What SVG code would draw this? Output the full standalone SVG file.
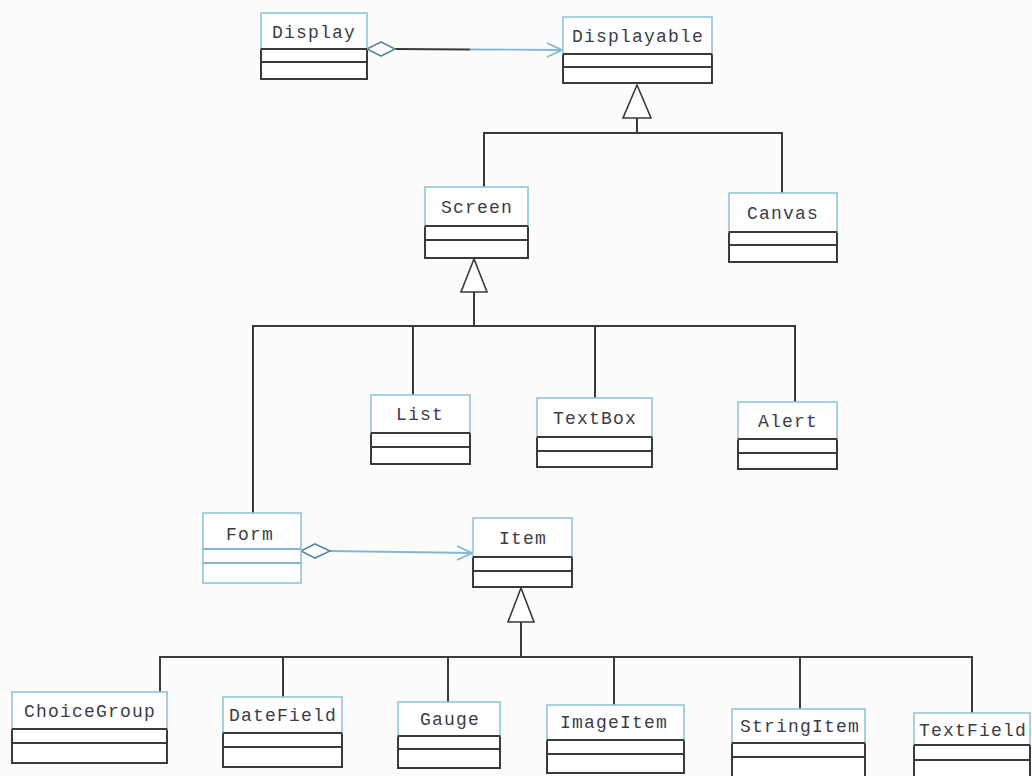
<svg xmlns="http://www.w3.org/2000/svg" width="1032" height="776" viewBox="0 0 1032 776">
  <style>
    .name { fill: #ffffff; stroke: #8ec6dc; stroke-width: 1.6; }
    .body { fill: #ffffff; stroke: #3a3a3a; stroke-width: 2; }
    .div { stroke: #3a3a3a; stroke-width: 2; }
    .label { font-family: "Liberation Mono", "DejaVu Sans Mono", monospace; font-size: 18px; letter-spacing: 1.2px; fill: #3a3d48; text-anchor: middle; }
    .wire { fill: none; stroke: #3a3a3a; stroke-width: 2; }
    .assoc { fill: none; stroke: #7fb9d4; stroke-width: 1.8; }
    .tri { fill: #ffffff; stroke: #3a3a3a; stroke-width: 1.6; }
    .dia { fill: #ffffff; stroke: #5a8aa0; stroke-width: 1.6; }
  </style>
  <rect width="1032" height="776" fill="#fcfcfb"/>

  <!-- connectors -->
  <g id="connectors">
    <!-- Display <>-> Displayable -->
    <line class="wire" x1="395" y1="49" x2="470" y2="49.5"/>
    <line class="assoc" x1="470" y1="49.5" x2="562" y2="50"/>
    <polyline class="assoc" points="547,43 562,50 547,57"/>
    <polygon class="dia" points="367,49 381,42 395,49 381,56"/>

    <!-- Displayable generalization -->
    <polygon class="tri" points="637,85 623,118 651,118"/>
    <polyline class="wire" points="637,118 637,133"/>
    <polyline class="wire" points="484,187 484,133 782,133 782,193"/>

    <!-- Screen generalization -->
    <polygon class="tri" points="474,259 461,292 487,292"/>
    <polyline class="wire" points="474,292 474,326"/>
    <polyline class="wire" points="253,513 253,326 795,326 795,402"/>
    <line class="wire" x1="413" y1="326" x2="413" y2="395"/>
    <line class="wire" x1="595" y1="326" x2="595" y2="398"/>

    <!-- Form <>-> Item -->
    <line class="assoc" x1="330" y1="551" x2="472" y2="553"/>
    <polyline class="assoc" points="457,546 472,553 457,560"/>
    <polygon class="dia" points="301,551 315,544 330,551 315,558"/>

    <!-- Item generalization -->
    <polygon class="tri" points="521,588 508,622 534,622"/>
    <polyline class="wire" points="521,622 521,657"/>
    <polyline class="wire" points="160,692 160,657 972,657 972,713"/>
    <line class="wire" x1="283" y1="657" x2="283" y2="697"/>
    <line class="wire" x1="448" y1="657" x2="448" y2="702"/>
    <line class="wire" x1="614" y1="657" x2="614" y2="705"/>
    <line class="wire" x1="800" y1="657" x2="800" y2="709"/>
  </g>

  <!-- class boxes -->
  <g id="Display">
    <rect class="body" x="261" y="49" width="106" height="30"/>
    <line class="div" x1="261" y1="62" x2="367" y2="62"/>
    <rect class="name" x="261" y="13" width="106" height="36"/>
    <line class="div" x1="261" y1="49" x2="367" y2="49"/>
    <text class="label" x="314" y="38">Display</text>
  </g>
  <g id="Displayable">
    <rect class="body" x="563" y="54" width="149" height="29"/>
    <line class="div" x1="563" y1="67" x2="712" y2="67"/>
    <rect class="name" x="563" y="17" width="149" height="37"/>
    <line class="div" x1="563" y1="54" x2="712" y2="54"/>
    <text class="label" x="638" y="42">Displayable</text>
  </g>
  <g id="Screen">
    <rect class="body" x="425" y="226" width="103" height="32"/>
    <line class="div" x1="425" y1="240" x2="528" y2="240"/>
    <rect class="name" x="425" y="187" width="103" height="39"/>
    <line class="div" x1="425" y1="226" x2="528" y2="226"/>
    <text class="label" x="477" y="213">Screen</text>
  </g>
  <g id="Canvas">
    <rect class="body" x="729" y="232" width="108" height="30"/>
    <line class="div" x1="729" y1="245" x2="837" y2="245"/>
    <rect class="name" x="729" y="193" width="108" height="39"/>
    <line class="div" x1="729" y1="232" x2="837" y2="232"/>
    <text class="label" x="783" y="219">Canvas</text>
  </g>
  <g id="List">
    <rect class="body" x="371" y="433" width="99" height="31"/>
    <line class="div" x1="371" y1="447" x2="470" y2="447"/>
    <rect class="name" x="371" y="395" width="99" height="38"/>
    <line class="div" x1="371" y1="433" x2="470" y2="433"/>
    <text class="label" x="420" y="420">List</text>
  </g>
  <g id="TextBox">
    <rect class="body" x="537" y="437" width="115" height="30"/>
    <line class="div" x1="537" y1="451" x2="652" y2="451"/>
    <rect class="name" x="537" y="398" width="115" height="39"/>
    <line class="div" x1="537" y1="437" x2="652" y2="437"/>
    <text class="label" x="595" y="424">TextBox</text>
  </g>
  <g id="Alert">
    <rect class="body" x="738" y="439" width="99" height="30"/>
    <line class="div" x1="738" y1="453" x2="837" y2="453"/>
    <rect class="name" x="738" y="402" width="99" height="37"/>
    <line class="div" x1="738" y1="439" x2="837" y2="439"/>
    <text class="label" x="788" y="427">Alert</text>
  </g>
  <g id="Form">
    <rect class="name" x="203" y="513" width="98" height="70"/>
    <line class="div" x1="203" y1="549" x2="301" y2="549" style="stroke:#7fb9d4"/>
    <line class="div" x1="203" y1="563" x2="301" y2="563" style="stroke:#7fb9d4"/>
    <text class="label" x="250" y="540">Form</text>
  </g>
  <g id="Item">
    <rect class="body" x="473" y="557" width="99" height="30"/>
    <line class="div" x1="473" y1="571" x2="572" y2="571"/>
    <rect class="name" x="473" y="518" width="99" height="39"/>
    <line class="div" x1="473" y1="557" x2="572" y2="557"/>
    <text class="label" x="523" y="544">Item</text>
  </g>
  <g id="ChoiceGroup">
    <rect class="body" x="12" y="729" width="155" height="34"/>
    <line class="div" x1="12" y1="743" x2="167" y2="743"/>
    <rect class="name" x="12" y="692" width="155" height="37"/>
    <line class="div" x1="12" y1="729" x2="167" y2="729"/>
    <text class="label" x="90" y="717">ChoiceGroup</text>
  </g>
  <g id="DateField">
    <rect class="body" x="223" y="733" width="119" height="34"/>
    <line class="div" x1="223" y1="747" x2="342" y2="747"/>
    <rect class="name" x="223" y="697" width="119" height="36"/>
    <line class="div" x1="223" y1="733" x2="342" y2="733"/>
    <text class="label" x="283" y="721">DateField</text>
  </g>
  <g id="Gauge">
    <rect class="body" x="398" y="736" width="102" height="32"/>
    <line class="div" x1="398" y1="749" x2="500" y2="749"/>
    <rect class="name" x="398" y="702" width="102" height="34"/>
    <line class="div" x1="398" y1="736" x2="500" y2="736"/>
    <text class="label" x="450" y="725">Gauge</text>
  </g>
  <g id="ImageItem">
    <rect class="body" x="547" y="740" width="137" height="33"/>
    <line class="div" x1="547" y1="754" x2="684" y2="754"/>
    <rect class="name" x="547" y="705" width="137" height="35"/>
    <line class="div" x1="547" y1="740" x2="684" y2="740"/>
    <text class="label" x="614" y="728">ImageItem</text>
  </g>
  <g id="StringItem">
    <rect class="body" x="732" y="743" width="133" height="40"/>
    <line class="div" x1="732" y1="757" x2="865" y2="757"/>
    <rect class="name" x="732" y="709" width="133" height="34"/>
    <line class="div" x1="732" y1="743" x2="865" y2="743"/>
    <text class="label" x="800" y="732">StringItem</text>
  </g>
  <g id="TextField">
    <rect class="body" x="914" y="745" width="116" height="40"/>
    <line class="div" x1="914" y1="760" x2="1030" y2="760"/>
    <rect class="name" x="914" y="713" width="116" height="32"/>
    <line class="div" x1="914" y1="745" x2="1030" y2="745"/>
    <text class="label" x="973" y="736">TextField</text>
  </g>
</svg>
